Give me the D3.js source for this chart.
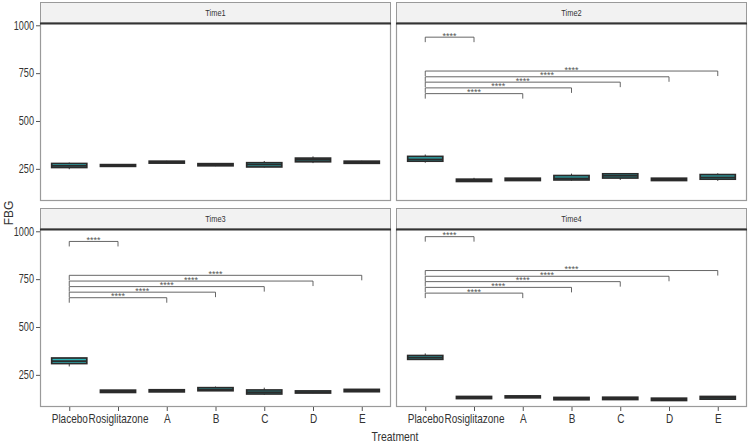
<!DOCTYPE html>
<html><head><meta charset="utf-8">
<script src="https://cdn.jsdelivr.net/npm/d3@7"></script>
<style>
body{margin:0;background:#fff;}
svg text{font-family:"Liberation Sans",Arial,sans-serif;}
</style></head>
<body><svg id="c" width="749" height="443"></svg>
<script>
const categories = ["Placebo","Rosiglitazone","A","B","C","D","E"];
const panels = ["Time1","Time2","Time3","Time4"];
const yTicks = [250,500,750,1000];
// box stats per panel: [lo, q1, median, q3, hi] per category
const time1Stats = [[248,257,265,278,283],[262,263,268,272,273],[278,280,285,290,292],[264,266,272,277,278],[257,260,272,282,291],[280,287,297,306,315],[277,279,285,290,292]];
const time2Stats = [[282,290,299,315,325],[183,184,190,196,203],[188,189,195,201,202],[188,192,200,215,225],[192,202,213,224,224],[188,189,195,201,202],[187,196,205,220,227]];
const time3Stats = [[294,309,322,338,338],[157,158,163,170,170],[160,161,166,172,173],[166,167,173,183,189],[146,150,160,171,183],[154,155,160,166,166],[161,162,168,174,174]];
const time4Stats = [[330,331,340,351,362],[125,126,131,137,138],[129,130,135,140,141],[119,120,126,132,133],[120,121,127,133,134],[115,116,122,128,129],[122,123,130,137,138]];
const allStats = [time1Stats,time2Stats,time3Stats,time4Stats];
// significance brackets: Placebo vs each group, y position per panel
const bracketTargets = ["Rosiglitazone","A","B","C","D","E"];
const time1Brackets = [];
const time2Brackets = [938,643,673,703,731,761];
const time3Brackets = [947,653,682,711,740,770];
const time4Brackets = [972,677,707,737,765,795];
const allBrackets = [time1Brackets,time2Brackets,time3Brackets,time4Brackets];
const sigLabel = "****";
const xTitle = "Treatment", yTitle = "FBG";

const svg = d3.select("#c");
const fill = "#2fb4b8", line = "#2b2b2b";
const colX = [40,396], pw = 351, rowY = [2,208], stripH = 21, ph = 178;

// horizontally condense a text element around its x position
function condense(sel, s){
  sel.each(function(){
    const t = d3.select(this);
    const xv = +(t.attr("x")||0);
    t.attr("x", xv/s).attr("transform", `scale(${s},1)`);
  });
}

panels.forEach((p,i)=>{
  const col = i%2, row = Math.floor(i/2);
  const x0 = colX[col], top = rowY[row];
  const g = svg.append("g").attr("transform",`translate(${x0},${top})`);
  g.append("rect").attr("x",0.5).attr("y",0.5).attr("width",pw-1).attr("height",stripH)
    .attr("fill","#f2f2f2").attr("stroke","#9a9a9a").attr("stroke-width",1);
  g.append("text").attr("x",pw/2).attr("y",stripH/2+3.5).attr("text-anchor","middle")
    .attr("font-size",9.5).attr("fill","#333").text(p).call(condense,0.78);
  const pg = g.append("g").attr("transform",`translate(0,${stripH})`);
  const x = d3.scalePoint().domain(categories).range([0,pw]).padding(0.6);
  const step = x.step();
  const y = d3.scaleLinear().domain([82,1012]).range([ph,0]);
  pg.append("rect").attr("x",0.5).attr("y",0).attr("width",pw-1).attr("height",ph-0.5)
    .attr("fill","none").attr("stroke","#9a9a9a").attr("stroke-width",1.2);
  pg.append("line").attr("x1",0).attr("x2",pw).attr("y1",0.5).attr("y2",0.5)
    .attr("stroke","#333").attr("stroke-width",1.8);
  if(col===0){
    const ya = pg.append("g").call(d3.axisLeft(y).tickValues(yTicks).tickFormat(d3.format("d")).tickSize(4).tickPadding(2));
    ya.select(".domain").remove();
    ya.selectAll("line").attr("stroke","#555");
    ya.selectAll("text").attr("font-size",12).attr("fill","#333").attr("font-family",null).call(condense,0.76);
  }
  if(row===1){
    const xa = pg.append("g").attr("transform",`translate(0,${ph})`)
      .call(d3.axisBottom(x).tickSize(4).tickPadding(3));
    xa.select(".domain").remove();
    xa.selectAll("line").attr("stroke","#555");
    xa.selectAll("text").attr("font-size",12.5).attr("fill","#333").attr("font-family",null).call(condense,0.8);
  }
  const bw = step*0.72;
  allStats[i].forEach((s,k)=>{
    const cx = x(categories[k]);
    pg.append("line").attr("x1",cx).attr("x2",cx).attr("y1",y(s[0])).attr("y2",y(s[4]))
      .attr("stroke",line).attr("stroke-width",0.9);
    pg.append("rect").attr("x",cx-bw/2).attr("width",bw)
      .attr("y",y(s[3])).attr("height",Math.max(0.5,y(s[1])-y(s[3])))
      .attr("fill",fill).attr("stroke",line).attr("stroke-width",1.7);
    pg.append("line").attr("x1",cx-bw/2).attr("x2",cx+bw/2).attr("y1",y(s[2])).attr("y2",y(s[2]))
      .attr("stroke",line).attr("stroke-width",1.8);
  });
  allBrackets[i].forEach((by,k)=>{
    const xa = x("Placebo"), xb = x(bracketTargets[k]);
    const yy = y(by), tip = 5;
    pg.append("path").attr("d",`M${xa},${yy+tip}V${yy}H${xb}V${yy+tip}`)
      .attr("fill","none").attr("stroke","#555").attr("stroke-width",0.9);
    pg.append("text").attr("x",(xa+xb)/2).attr("y",yy+1.5).attr("text-anchor","middle")
      .attr("font-size",9).attr("fill","#555").text(sigLabel);
  });
});
svg.append("text").attr("x",395).attr("y",441).attr("text-anchor","middle")
  .attr("font-size",13).attr("fill","#333").text(xTitle).call(condense,0.8);
svg.append("text").attr("transform","translate(13,213) rotate(-90)").attr("text-anchor","middle")
  .attr("font-size",12).attr("fill","#333").text(yTitle);
</script></body></html>
